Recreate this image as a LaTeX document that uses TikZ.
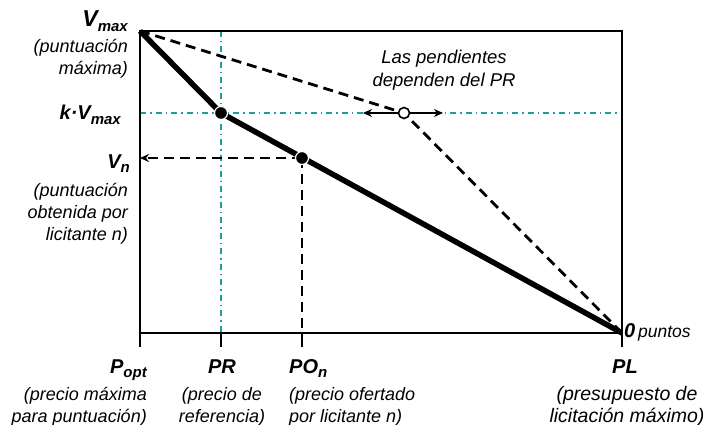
\documentclass[tikz,border=0pt]{standalone}
\usepackage{fontspec}
\setmainfont{Liberation Sans}
\usepackage{xcolor}
\usetikzlibrary{arrows.meta,positioning,calc}
\definecolor{guideteal}{RGB}{25,160,155}
\newcommand{\low}[1]{\raisebox{-4.5pt}{\fontsize{15}{15}\selectfont #1}}

\begin{document}
\begin{tikzpicture}[
    x=1pt, y=-1pt,
    axis/.style={line width=2.6pt},
    guide/.style={draw=guideteal, line width=1.6pt, dash pattern=on 6pt off 4pt on 1.5pt off 4pt},
    price/.style={line width=5.5pt, line join=round},
    slope/.style={line width=2.8pt, dash pattern=on 10pt off 6pt},
    point/.style={circle, fill=black, draw=white, line width=1.2pt, inner sep=0pt, minimum size=13pt},
    pivot/.style={circle, fill=white, draw=black, line width=1.6pt, inner sep=0pt, minimum size=11pt},
    tag/.style={inner sep=0pt, font=\bfseries\itshape\fontsize{20}{24}\selectfont},
    note/.style={inner sep=0pt, font=\itshape\fontsize{18}{22}\selectfont},
    tip/.style={-{Stealth[length=9pt,width=8pt]}},
]
\useasboundingbox (0,0) rectangle (704,425);

% Corners and axis points
\coordinate (vmax) at (140,31);
\coordinate (corner) at (622,31);
\coordinate (pl) at (622,333);
\coordinate (popt) at (140,333);
\coordinate (prtop) at (221,31);
\coordinate (prbot) at (221,333);
\coordinate (kleft) at (140,113);
\coordinate (kright) at (622,113);
\coordinate (vn) at (140,158);
\coordinate (ponbot) at (302,333);
\coordinate (pivleft) at (363,113);
\coordinate (pivright) at (443,113);

% Guides
\draw[guide] (prtop) -- (prbot);
\draw[guide] (kleft) -- (kright);

% Frame and ticks
\draw[axis] (popt) -- (vmax) -- (corner) -- (pl) -- (popt);
\foreach \x in {140,221,302,622}
  \draw[axis] (\x,333) -- (\x,347);

% Slopes
\coordinate (pr) at (221,113);
\coordinate (pon) at (302,158);
\coordinate (piv) at (404,113);
\draw[slope] (vmax) -- (piv) -- (pl);
\draw[slope] (pon) -- (ponbot);
\draw[slope, tip] (pon) -- (vn);
\draw[price] (vmax) -- (pr) -- (pl);
\draw[line width=2.2pt, tip] (piv) -- (pivleft);
\draw[line width=2.2pt, tip] (piv) -- (pivright);

% Points
\node[point] (prdot) at (pr) {};
\node[point] (pondot) at (pon) {};
\node[pivot] (pivdot) at (piv) {};

% Left labels
\node[tag, anchor=base east, font=\bfseries\itshape\fontsize{23}{26}\selectfont] (vmaxlab) at (128,27) {V\low{max}};
\node[note, align=right, anchor=north east] (vmaxnote) at (128,39) {(puntuación\\máxima)};
\node[tag, anchor=base east] (klab) at (121,120) {k·V\low{max}};
\node[tag, anchor=base east] (vnlab) at (130,168) {V\low{n}};
\node[note, align=right, anchor=north east] (vnnote) at (128,183) {(puntuación\\obtenida por\\licitante n)};

% Bottom labels
\node[tag, anchor=base east] (poptlab) at (147,373) {P\low{opt}};
\node[note, align=right, anchor=north east] (poptnote) at (147,387) {(precio máxima\\para puntuación)};
\node[tag, anchor=base] (prlab) at (222,373) {PR};
\node[note, align=center, anchor=north] (prnote) at (222,387) {(precio de\\referencia)};
\node[tag, anchor=base west] (ponlab) at (289,373) {PO\low{n}};
\node[note, align=left, anchor=north west] (ponnote) at (289,387) {(precio ofertado\\por licitante n)};
\node[tag, anchor=base] (pllab) at (625,373) {PL};
\node[note, align=center, anchor=north, font=\itshape\fontsize{19.5}{22}\selectfont] (plnote) at (627,386) {(presupuesto de\\licitación máximo)};

% Right and top notes
\node[anchor=base west, inner sep=0pt] (zero) at (624,337) {\textbf{\textit{\fontsize{20}{24}\selectfont 0}} \textit{\fontsize{17.5}{21}\selectfont puntos}};
\node[note, align=center, anchor=north, font=\itshape\fontsize{18.5}{23}\selectfont] (slopenote) at (444,50) {Las pendientes\\dependen del PR};

\end{tikzpicture}
\end{document}
